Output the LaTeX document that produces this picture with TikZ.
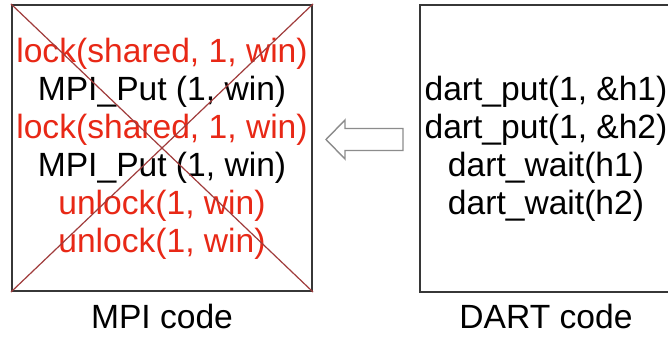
\documentclass[tikz,border=0pt]{standalone}
\usepackage{fontspec}
\setmainfont{Liberation Sans}
\definecolor{codered}{RGB}{232,40,22}
\definecolor{boxgray}{RGB}{55,55,55}
\definecolor{crossred}{RGB}{160,60,60}
\definecolor{arrowgray}{RGB}{140,140,140}
\tikzset{
  codebox/.style={draw=boxgray, line width=2pt, inner sep=0pt},
  codeline/.style={anchor=base, inner sep=0pt, font=\fontsize{33.6}{38}\selectfont},
  redline/.style={codeline, text=codered},
  crossline/.style={draw=crossred, line width=1.2pt},
  hollowarrow/.style={draw=arrowgray, line width=1.4pt, fill=white, line join=miter},
}
\begin{document}
\begin{tikzpicture}[x=1pt,y=1pt]
\clip (0,0) rectangle (668,337);
\fill[white] (0,0) rectangle (668,337);
% boxes
\node[codebox, minimum width=300pt, minimum height=286pt] (mpi) at (162,189) {};
\node[codebox, minimum width=252pt, minimum height=287pt] (dart) at (546,188.5) {};
% MPI code lines
\node[redline] (l1) at (162,274) {lock(shared, 1, win)};
\node[codeline] (l2) at (162,236) {MPI\_Put (1, win)};
\node[redline] (l3) at (162,198) {lock(shared, 1, win)};
\node[codeline] (l4) at (162,160) {MPI\_Put (1, win)};
\node[redline] (l5) at (162,122) {unlock(1, win)};
\node[redline] (l6) at (162,84) {unlock(1, win)};
% DART code lines
\node[codeline] (d1) at (546,236) {dart\_put(1, \&h1)};
\node[codeline] (d2) at (546,198) {dart\_put(1, \&h2)};
\node[codeline] (d3) at (546,160) {dart\_wait(h1)};
\node[codeline] (d4) at (546,122) {dart\_wait(h2)};
% cross
\draw[crossline] (mpi.north west) -- (mpi.south east);
\draw[crossline] (mpi.north east) -- (mpi.south west);
% labels
\node[codeline] (mpilabel) at (162,9) {MPI code};
\node[codeline] (dartlabel) at (546,9) {DART code};
% hollow arrow
\draw[hollowarrow] (326,197.5) -- (345,217) -- (345,208.5) -- (403,208.5) -- (403,186.5) -- (345,186.5) -- (345,178) -- cycle;
\end{tikzpicture}
\end{document}
